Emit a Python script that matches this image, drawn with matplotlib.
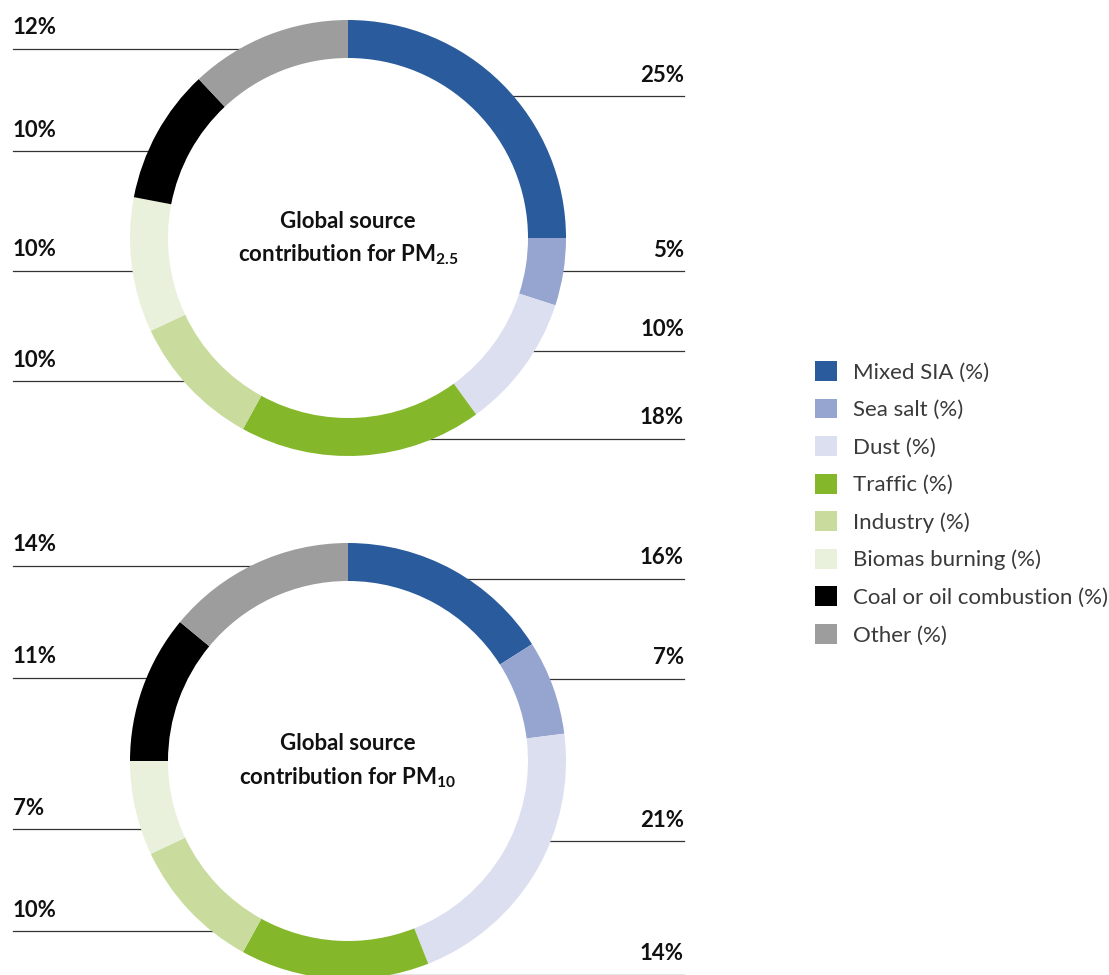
import matplotlib
matplotlib.use('Agg')
import matplotlib.pyplot as plt
import numpy as np

categories = ['Mixed SIA (%)', 'Sea salt (%)', 'Dust (%)', 'Traffic (%)', 'Industry (%)',
              'Biomas burning (%)', 'Coal or oil combustion (%)', 'Other (%)']
pm25_values = [25, 5, 10, 18, 10, 10, 10, 12]
pm10_values = [16, 7, 21, 14, 10, 7, 11, 14]
colors = ['#2a5b9c', '#95a5cf', '#dcdff0', '#84b82a', '#c9dc9e', '#e9f1dc', '#000000', '#9d9d9d']

# layout tweaks: vertical shift (pixels, + = down) of each label's leader line
pm25_label_shift = [-1, 2, -4, 2, 7, 8, 9, -4]
pm10_label_shift = [-8, -15, -21, 15, 34, 25, -16, -15]

plt.rcParams['font.family'] = ['Lato', 'DejaVu Sans']
plt.rcParams['mathtext.fontset'] = 'custom'
plt.rcParams['mathtext.bf'] = 'Lato:bold'
plt.rcParams['mathtext.rm'] = 'Lato:bold'

W, H = 1109, 975
fig = plt.figure(figsize=(W / 100, H / 100), dpi=100)
ax = fig.add_axes([0, 0, 1, 1])

R = 218
RING = 38
RMID = R - RING / 2
LEFT_X = 13
RIGHT_X = 684


def donut(values, shifts, cx, cy_img, sub):
    cy = H - cy_img
    wedges, _ = ax.pie(values, colors=colors, center=(cx, cy), radius=R, startangle=90,
                       counterclock=False, frame=True,
                       wedgeprops=dict(width=RING, linewidth=0, zorder=2))
    cum = 0
    for i, v in enumerate(values):
        mid = np.deg2rad(90 - (cum + v / 2) * 3.6)
        cum += v
        y = cy + RMID * np.sin(mid) - shifts[i]
        dy = min(abs(y - cy), R - 6)
        half = np.sqrt((R - 4) ** 2 - dy ** 2)
        if i < 4:
            ax.plot([cx + half, RIGHT_X], [y, y], color='#333333', lw=0.9, zorder=1)
            ax.text(RIGHT_X, y + 21, f'{v}%', ha='right', va='center', fontsize=16,
                    fontweight='bold', color='#111111')
        else:
            ax.plot([LEFT_X, cx - half], [y, y], color='#333333', lw=0.9, zorder=1)
            ax.text(LEFT_X, y + 21, f'{v}%', ha='left', va='center', fontsize=16,
                    fontweight='bold', color='#111111')
    ax.text(cx, cy + 17, 'Global source', ha='center', va='center', fontsize=16,
            fontweight='bold', color='#111111')
    ax.text(cx, cy - 17, 'contribution for PM$_{\\mathbf{' + sub + '}}$', ha='center',
            va='center', fontsize=16, fontweight='bold', color='#111111')
    return wedges


w1 = donut(pm25_values, pm25_label_shift, 348, 238, '2.5')
donut(pm10_values, pm10_label_shift, 348, 761, '10')

ax.set_xlim(0, W)
ax.set_ylim(0, H)
ax.set_aspect('equal')
ax.axis('off')

leg = ax.legend(w1, categories, loc='upper left', bbox_to_anchor=(815 / W, 1 - 361 / H),
                frameon=False, fontsize=16, handlelength=1.0, handleheight=1.0,
                labelspacing=0.72, handletextpad=0.72, borderpad=0, borderaxespad=0)
for t in leg.get_texts():
    t.set_color('#3a3a3a')

fig.savefig('out.png', dpi=100)
